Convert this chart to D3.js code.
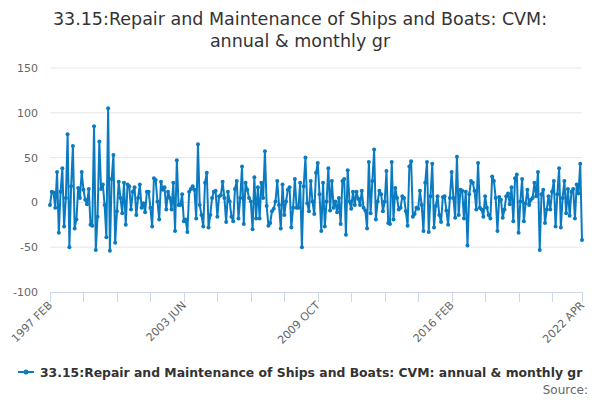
<!DOCTYPE html>
<html>
<head>
<meta charset="utf-8">
<script src="https://cdn.jsdelivr.net/npm/d3@7"></script>
<style>
  body { margin: 0; background: #fff; }
  text { font-family: "DejaVu Sans", sans-serif; }
</style>
</head>
<body>
<svg id="mainsvg" width="600" height="400"></svg>
<script>
// monthly growth values, 1997 FEB .. 2022 APR
const values = [
  -3, 12, 11, -6, 34, -34, 12, 38, -27, 5, 76, -50, 18, 63, -29, -19, 16, 5, 34, 14,
  3, -2, 15, -25, -26, 85, -53, -16, 68, 15, 20, -3, -39, 105,
  -54, 26, 53, -45, -10, 23, 5, -12, 22, -25, 20, 18, -8, 12, 17, -14, 5, 20, -6, -1,
  -11, 12, 12, -6, -27, 27, 25, 1, -19, 23,
  14, 17, -8, 12, 5, -8, 22, -32, 47, -3, -3, 9, -21, -19, -33, 12, 15, 18, 14, -18,
  65, -3, -14, -27, 22, 33, -28, -14, 5, 12, 13, -16, 7, 8,
  23, 5, -22, 12, 1, -16, -21, 15, 24, -18, 5, 40, -24, 22, 14, 5, 1, -30, 28, -18,
  17, -18, 22, 5, 57, -4, -26, -23, -10, -7, 1, 24, -3,
  -29, 20, -14, 1, 14, 17, -28, -6, 26, -6, -6, 22, -50, 18, 50, -1, -10, 24, 1, -13,
  33, 44, 9, -32, 22, -27, 1, 38, -9, 24, -6, 1, -11, 5,
  -24, 24, 26, -36, 36, 1, -7, 12, -3, 12, 4, -3, 13, -6, -9, -29, 45, -12, 24, 59,
  -19, 1, 13, 9, -10, 1, 35, -23, -24, 45, -19, 16, 5,
  -8, -6, 7, 5, -10, -26, 40, 46, -16, -13, -6, -7, 13, -3, -32, 22, 45, -33, 7, 43,
  -28, -4, 7, -14, -22, 6, 7, -9, -25, 5, 34, 5, -17, 51,
  -14, 14, 13, -18, 12, -48, 9, 24, 22, 13, -8, 44, -6, -8, -16, 7, -6, -14, -18, 29,
  24, 5, -32, 6, 3, -17, -8, 7, 10, -2, 17, -21, 27,
  31, -34, 1, 26, -21, -1, 14, -3, 3, 5, 22, 7, 34, -53, 9, 14, -23, -8, 7, -8,
  12, 24, -27, 9, 38, -28, 5, 24, -12, 15, -15, 12, 15, -18, 20, 10, 43, -42
]

const MONTHS = ["JAN","FEB","MAR","APR","MAY","JUN","JUL","AUG","SEP","OCT","NOV","DEC"]
const startYear = 1997
const startMonth = 1   // FEB
const categories = values.map((v, i) => {
  let m = startMonth + i
  return `${startYear + Math.floor(m / 12)} ${MONTHS[m % 12]}`
})

const yTicks = [150, 100, 50, 0, -50, -100]
const tickStep = 19
const labelEvery = 4

const titleLines = ["33.15:Repair and Maintenance of Ships and Boats: CVM:", "annual & monthly gr"]
const seriesName = "33.15:Repair and Maintenance of Ships and Boats: CVM: annual & monthly gr"

const LINE = "#0b7bc1"
const MARGIN = { left: 50, right: 18, top: 68, bottom: 108 }
const WIDTH = 600, HEIGHT = 400

let svg = d3.select("#mainsvg")

// title
svg.append("text")
  .attr("x", 300).attr("y", 25)
  .attr("text-anchor", "middle")
  .attr("fill", "#333333")
  .attr("font-size", 17.5)
  .selectAll("tspan")
  .data(titleLines)
  .enter()
  .append("tspan")
  .attr("x", 300)
  .attr("dy", (d, i) => i === 0 ? 0 : 22)
  .text(d => d)

let x = d3.scalePoint()
  .domain(d3.range(values.length))
  .range([MARGIN.left, WIDTH - MARGIN.right])

let y = d3.scaleLinear()
  .domain([-100, 150])
  .range([HEIGHT - MARGIN.bottom, MARGIN.top])

// grid + y labels
let yAxis = svg.append("g").attr("id", "y_axis")
yAxis.selectAll("line")
  .data(yTicks.filter(d => d !== -100))
  .enter()
  .append("line")
  .attr("x1", MARGIN.left).attr("x2", WIDTH - MARGIN.right)
  .attr("y1", d => y(d)).attr("y2", d => y(d))
  .attr("stroke", "#e6e6e6")
  .attr("stroke-width", 1)

yAxis.selectAll("text")
  .data(yTicks)
  .enter()
  .append("text")
  .attr("x", MARGIN.left - 12)
  .attr("y", d => y(d) + 4)
  .attr("text-anchor", "end")
  .attr("fill", "#666666")
  .attr("font-size", 11)
  .text(d => d)

// x axis
let tickIdx = d3.range(0, values.length, tickStep)
if (tickIdx[tickIdx.length - 1] !== values.length - 1) tickIdx.push(values.length - 1)

let xAxis = svg.append("g").attr("id", "x_axis")
xAxis.append("line")
  .attr("x1", MARGIN.left).attr("x2", WIDTH - MARGIN.right)
  .attr("y1", y(-100) + 0.5).attr("y2", y(-100) + 0.5)
  .attr("stroke", "#ccd6eb")

xAxis.selectAll("line.tick")
  .data(tickIdx)
  .enter()
  .append("line")
  .attr("class", "tick")
  .attr("x1", d => Math.round(x(d)) + 0.5).attr("x2", d => Math.round(x(d)) + 0.5)
  .attr("y1", y(-100)).attr("y2", y(-100) + 10)
  .attr("stroke", "#ccd6eb")

let labelIdx = tickIdx.filter((d, i) => i % labelEvery === 0)
xAxis.selectAll("text")
  .data(labelIdx)
  .enter()
  .append("text")
  .attr("transform", d => `translate(${x(d) + 3}, ${y(-100) + 14}) rotate(-45)`)
  .attr("text-anchor", "end")
  .attr("fill", "#666666")
  .attr("font-size", 11)
  .text(d => categories[d])

// series
let line = d3.line()
  .x((d, i) => x(i))
  .y(d => y(d))

let plot = svg.append("g").attr("id", "series")
plot.append("path")
  .datum(values)
  .attr("d", line)
  .attr("fill", "none")
  .attr("stroke", LINE)
  .attr("stroke-width", 2)
  .attr("stroke-linejoin", "round")

plot.selectAll("circle")
  .data(values)
  .enter()
  .append("circle")
  .attr("cx", (d, i) => x(i))
  .attr("cy", d => y(d))
  .attr("r", 2)
  .attr("fill", LINE)

// legend
let legend = svg.append("g").attr("id", "legend")
legend.append("line")
  .attr("x1", 18).attr("x2", 34)
  .attr("y1", 372).attr("y2", 372)
  .attr("stroke", LINE).attr("stroke-width", 2)
legend.append("circle")
  .attr("cx", 26).attr("cy", 372).attr("r", 2.5)
  .attr("fill", LINE)
legend.append("text")
  .attr("x", 40).attr("y", 377)
  .attr("fill", "#333333")
  .attr("font-size", 12.4)
  .attr("font-weight", "bold")
  .text(seriesName)

svg.append("text")
  .attr("x", 588).attr("y", 394)
  .attr("text-anchor", "end")
  .attr("fill", "#666666")
  .attr("font-size", 12)
  .text("Source:")
</script>
</body>
</html>
